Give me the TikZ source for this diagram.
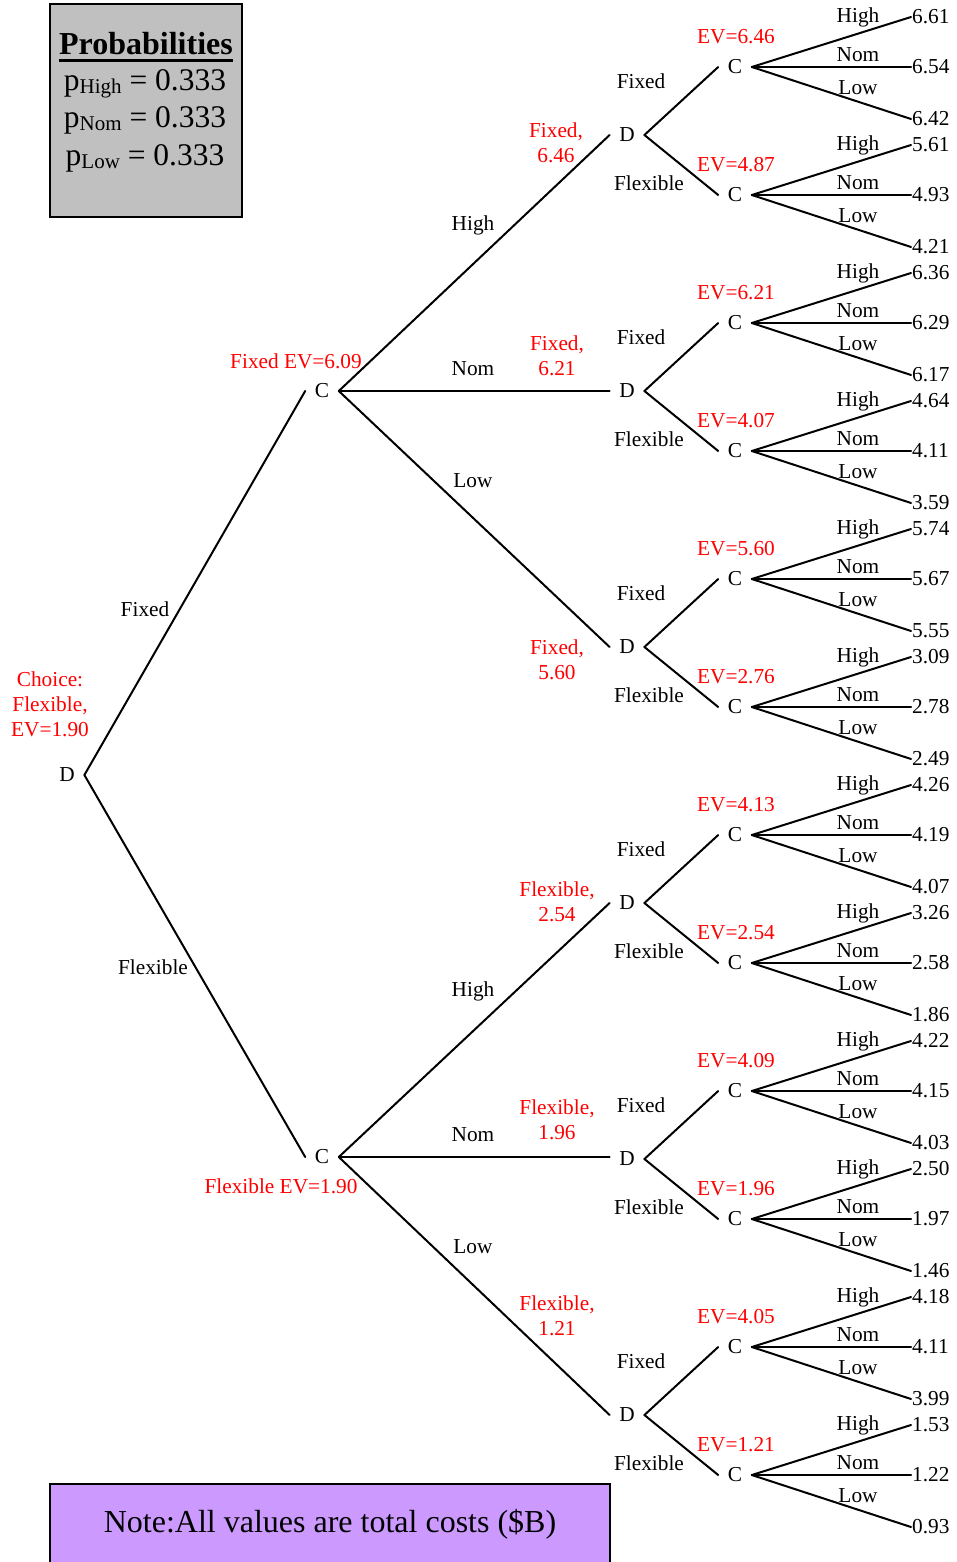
\documentclass[tikz,border=0pt]{standalone}
\usepackage{fontspec}
\setmainfont{Liberation Serif}
\definecolor{probgray}{HTML}{C0C0C0}
\definecolor{notepurple}{HTML}{CC99FF}
\newcommand\lblsize{\fontsize{21.3}{25}\selectfont}
\tikzset{
  branch/.style={line width=2pt, line cap=round},
  dnode/.style={font=\lblsize, inner xsep=9.5pt, inner ysep=2pt},
  lbl/.style={font=\lblsize, inner sep=0pt, align=center},
  redlbl/.style={lbl, text=red},
  leaf/.style={font=\lblsize, inner sep=1pt, anchor=west},
  panel/.style={draw=black, line width=1.8pt},
}
\begin{document}
\begin{tikzpicture}[x=1pt, y=-1pt]
\useasboundingbox (0,0) rectangle (956,1562);

% probabilities panel
\node[panel, fill=probgray, minimum width=192pt, minimum height=213pt] (pbox) at (146,110.5) {};
\node[inner sep=0pt, font=\fontsize{32}{36}\selectfont\bfseries] (ptitle) at (146,43.5) {Probabilities};
\draw[line width=3pt] ([yshift=-6pt]ptitle.base west) -- ([yshift=-6pt]ptitle.base east);
\foreach \nm/\yy in {High/84, Nom/120, Low/158}
  \node[inner sep=0pt, font=\fontsize{31.5}{36}\selectfont] (p\nm) at (145,\yy)
    {p\raisebox{-3pt}{\fontsize{21}{24}\selectfont \nm} = 0.333};

% note panel
\node[panel, fill=notepurple, minimum width=560pt, minimum height=80pt] (note) at (330,1524) {};
\node[inner sep=0pt, font=\fontsize{32}{36}\selectfont] (notetext) at (330,1524) {Note:All values are total costs (\$B)};

% root decision and first chance level
\node[dnode] (d0) at (67,775) {D};
\node[dnode] (c1) at (322,391) {C};
\node[dnode] (c2) at (322,1157) {C};
\draw[branch] (d0.east) -- (c1.west);
\draw[branch] (d0.east) -- (c2.west);
\node[redlbl] (choice) at (50,704) {Choice:\\Flexible,\\EV=1.90};
\node[lbl] (rfix) at (145,609) {Fixed};
\node[lbl] (rflex) at (153,967) {Flexible};
\node[redlbl] (c1ev) at (296,361) {Fixed EV=6.09};
\node[redlbl] (c2ev) at (281,1186) {Flexible EV=1.90};

% second decision level
\foreach \j in {1,...,6}
  \node[dnode] (d\j) at (627,{135+256*(\j-1)}) {D};
\foreach \c/\a/\b/\e in {c1/d1/d2/d3, c2/d4/d5/d6}{
  \draw[branch] (\c.east) -- (\a.west);
  \draw[branch] (\c.east) -- (\c.east -| \b.west);
  \draw[branch] (\c.east) -- (\e.west);
}
\foreach \c/\yy in {1/391, 2/1157}{
  \node[lbl] (hi\c) at (473,\yy-166) {High};
  \node[lbl] (no\c) at (473,\yy-22) {Nom};
  \node[lbl] (lo\c) at (473,\yy+90) {Low};
}
\node[redlbl] (dv1) at (556,143) {Fixed,\\6.46};
\node[redlbl] (dv2) at (557,356) {Fixed,\\6.21};
\node[redlbl] (dv3) at (557,660) {Fixed,\\5.60};
\node[redlbl] (dv4) at (557,902) {Flexible,\\2.54};
\node[redlbl] (dv5) at (557,1120) {Flexible,\\1.96};
\node[redlbl] (dv6) at (557,1316) {Flexible,\\1.21};

% third chance level and outcomes
\foreach \k/\ev/\h/\n/\l in {
   1/6.46/6.61/6.54/6.42, 2/4.87/5.61/4.93/4.21,
   3/6.21/6.36/6.29/6.17, 4/4.07/4.64/4.11/3.59,
   5/5.60/5.74/5.67/5.55, 6/2.76/3.09/2.78/2.49,
   7/4.13/4.26/4.19/4.07, 8/2.54/3.26/2.58/1.86,
   9/4.09/4.22/4.15/4.03, 10/1.96/2.50/1.97/1.46,
   11/4.05/4.18/4.11/3.99, 12/1.21/1.53/1.22/0.93}{
  \pgfmathsetmacro\yy{67+128*(\k-1)}
  \node[dnode] (e\k) at (735,\yy) {C};
  \node[redlbl] (ev\k) at (736,\yy-30) {EV=\ev};
  \node[leaf] (h\k) at (911,\yy-50) {\h};
  \node[leaf] (n\k) at (911,\yy) {\n};
  \node[leaf] (l\k) at (911,\yy+52) {\l};
  \draw[branch] (e\k.east) -- (h\k.west);
  \draw[branch] (e\k.east) -- (n\k.west);
  \draw[branch] (e\k.east) -- (l\k.west);
  \node[lbl] (hl\k) at (858,\yy-50) {High};
  \node[lbl] (nl\k) at (858,\yy-12) {Nom};
  \node[lbl] (ll\k) at (858,\yy+21) {Low};
}
\foreach \j in {1,...,6}{
  \pgfmathtruncatemacro\up{2*\j-1}
  \pgfmathtruncatemacro\dn{2*\j}
  \pgfmathsetmacro\yy{135+256*(\j-1)}
  \draw[branch] (d\j.east) -- (e\up.west);
  \draw[branch] (d\j.east) -- (e\dn.west);
  \node[lbl] (fx\j) at (641,\yy-54) {Fixed};
  \node[lbl] (fl\j) at (649,\yy+48) {Flexible};
}
\end{tikzpicture}
\end{document}
